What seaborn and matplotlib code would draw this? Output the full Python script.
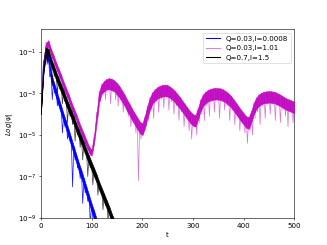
import numpy as np
import pandas as pd
import matplotlib
matplotlib.use("Agg")
import matplotlib.pyplot as plt
from matplotlib.ticker import FixedLocator, NullLocator, LogFormatterMathtext
import seaborn as sns

# ---- data (log10 |psi|) ----
# Q=0.03, l=1.01 (magenta): crest points every 5, band bottom at same t,
# spike troughs in between
mag_t_up = list(range(0, 505, 5))
mag_up = [-3.9, -1.4, -0.55, -0.45, -0.85, -1.15, -1.5, -1.8, -2.1, -2.45,
          -2.75, -3.05, -3.4, -3.7, -4.0, -4.35, -4.65, -4.95, -5.25, -5.55,
          -5.7, -5.0, -3.9, -2.9, -2.55, -2.4, -2.3, -2.27, -2.3, -2.38,
          -2.5, -2.65, -2.85, -3.05, -3.3, -3.5, -3.75, -3.95, -4.15, -4.35,
          -4.45, -4.1, -3.6, -3.2, -2.95, -2.8, -2.7, -2.63, -2.59, -2.58,
          -2.6, -2.68, -2.78, -2.9, -3.05, -3.2, -3.38, -3.55, -3.72, -3.88,
          -4.0, -4.05, -3.7, -3.3, -3.05, -2.92, -2.83, -2.78, -2.75, -2.74,
          -2.75, -2.76, -2.82, -2.9, -3.0, -3.12, -3.28, -3.45, -3.62, -3.8,
          -3.95, -4.1, -4.15, -3.85, -3.45, -3.2, -3.05, -2.97, -2.92, -2.9,
          -2.89, -2.9, -2.92, -2.97, -3.03, -3.1, -3.18, -3.25, -3.3, -3.35,
          -3.4]
mag_band = [-3.9, -1.8, -0.85, -0.75, -1.15, -1.45, -1.8, -2.1, -2.4, -2.75,
            -3.05, -3.35, -3.7, -4.0, -4.3, -4.65, -4.95, -5.25, -5.55, -5.85,
            -6.0, -5.4, -4.4, -3.4, -3.0, -2.9, -2.8, -2.8, -2.85, -2.9,
            -3.05, -3.2, -3.4, -3.6, -3.85, -4.05, -4.3, -4.5, -4.7, -4.9,
            -5.0, -4.7, -4.2, -3.8, -3.5, -3.35, -3.25, -3.18, -3.15, -3.13,
            -3.15, -3.22, -3.32, -3.45, -3.6, -3.75, -3.92, -4.1, -4.27, -4.43,
            -4.55, -4.6, -4.25, -3.85, -3.6, -3.47, -3.38, -3.33, -3.3, -3.29,
            -3.3, -3.31, -3.37, -3.45, -3.55, -3.67, -3.83, -4.0, -4.17, -4.35,
            -4.5, -4.65, -4.7, -4.4, -4.0, -3.75, -3.6, -3.52, -3.47, -3.45,
            -3.44, -3.45, -3.47, -3.52, -3.58, -3.65, -3.73, -3.8, -3.85, -3.9,
            -3.95]
mag_t_lo = [2.5 + 5 * k for k in range(100)]
mag_lo = [-3.0, -1.6, -0.8, -1.0, -1.35, -1.65, -1.95, -2.3, -2.6, -2.95,
          -3.25, -3.55, -3.9, -4.2, -4.5, -4.85, -5.15, -5.45, -5.75, -6.0,
          -5.9, -5.0, -4.2, -3.4, -3.1, -3.3, -2.9, -3.5, -2.9, -3.3,
          -3.6, -3.3, -3.9, -3.6, -4.1, -4.6, -4.3, -4.9, -7.2, -5.2,
          -5.0, -4.6, -4.3, -3.8, -4.2, -3.4, -3.9, -3.3, -3.7, -3.2,
          -3.8, -3.4, -4.0, -3.6, -4.3, -3.9, -4.6, -4.2, -4.8, -5.2,
          -4.6, -5.0, -4.4, -4.0, -4.3, -3.6, -4.1, -3.4, -3.9, -3.3,
          -4.2, -3.4, -3.8, -3.6, -4.3, -3.8, -4.5, -4.1, -4.8, -4.4,
          -4.9, -5.4, -4.8, -5.0, -4.2, -3.9, -4.5, -3.6, -4.2, -3.5,
          -4.0, -3.5, -4.3, -3.6, -4.4, -3.8, -4.1, -4.6, -3.9, -4.4]

# Q=0.03, l=0.0008 (blue)
blue_t_up = list(range(0, 120, 5))
blue_up = [-3.8, -1.6, -0.9, -1.2, -2.0, -2.4, -2.8, -3.2, -3.6, -4.0,
           -4.35, -4.75, -5.15, -5.55, -5.95, -6.35, -6.7, -7.1, -7.5, -7.9,
           -8.3, -8.65, -9.05, -9.4]
blue_band = [-3.8, -1.9, -1.2, -1.5, -2.4, -2.8, -3.2, -3.6, -4.0, -4.4,
             -4.75, -5.15, -5.55, -5.95, -6.35, -6.75, -7.1, -7.5, -7.9, -8.3,
             -8.7, -9.05, -9.45, -9.8]
blue_t_lo = [2.5 + 5 * k for k in range(23)]
blue_lo = [-2.8, -1.3, -1.5, -2.2, -3.3, -3.0, -3.6, -3.7, -4.9, -4.6,
           -5.2, -5.3, -7.5, -6.2, -6.6, -7.1, -8.3, -7.8, -8.2, -9.3,
           -9.0, -9.6, -9.8]

# Q=0.7, l=1.5 (black)
blk_t_up = list(range(0, 155, 5))
blk_up = [-4.0, -1.8, -0.8, -0.85, -1.3, -1.6, -1.95, -2.25, -2.55, -2.85,
          -3.2, -3.5, -3.8, -4.1, -4.45, -4.75, -5.05, -5.35, -5.7, -6.0,
          -6.3, -6.6, -6.9, -7.25, -7.55, -7.85, -8.15, -8.45, -8.8, -9.1,
          -9.4]
blk_band = [-4.0, -2.1, -1.1, -1.2, -1.7, -2.0, -2.35, -2.65, -2.95, -3.25,
            -3.6, -3.9, -4.2, -4.5, -4.85, -5.15, -5.45, -5.75, -6.1, -6.4,
            -6.7, -7.0, -7.3, -7.65, -7.95, -8.25, -8.55, -8.85, -9.2, -9.5,
            -9.8]
blk_t_lo = [2.5 + 5 * k for k in range(30)]
blk_lo = [-3.0, -1.2, -1.6, -1.5, -2.6, -2.2, -3.0, -2.8, -3.5, -3.4,
          -4.4, -4.1, -4.5, -5.3, -5.0, -5.6, -6.2, -5.9, -7.0, -6.6,
          -7.4, -7.1, -7.9, -7.7, -8.6, -8.4, -9.2, -9.1, -9.6, -9.7]

labels = ["Q=0.03,l=0.0008", "Q=0.03,l=1.01", "Q=0.7,l=1.5"]
colors = ["#0000ff", "#bf00bf", "#000000"]
line_alpha = [0.9, 0.55, 0.75]
band_alpha = [1.0, 0.9, 1.0]
ytick_exp = [-9, -7, -5, -3, -1]


def series(t_up, up, t_lo, lo):
    df = pd.DataFrame({"t": list(t_up) + list(t_lo),
                       "logpsi": list(up) + list(lo)})
    df = df.sort_values("t").reset_index(drop=True)
    df["psi"] = 10.0 ** df["logpsi"]
    return df


lines = [series(blue_t_up, blue_up, blue_t_lo, blue_lo),
         series(mag_t_up, mag_up, mag_t_lo, mag_lo),
         series(blk_t_up, blk_up, blk_t_lo, blk_lo)]
bands = [(blue_t_up, blue_up, blue_band),
         (mag_t_up, mag_up, mag_band),
         (blk_t_up, blk_up, blk_band)]

fig, ax = plt.subplots(figsize=(6.4, 4.8), dpi=51.1)
ax.set_yscale("log")
for i, (df, (tb, ub, lb), lab, col) in enumerate(zip(lines, bands, labels, colors)):
    ax.fill_between(tb, 10.0 ** np.array(ub), 10.0 ** np.array(lb),
                    color=col, alpha=band_alpha[i], linewidth=0.8,
                    edgecolor=col, zorder=2 + 2 * i)
    sns.lineplot(data=df, x="t", y="psi", ax=ax, color=col,
                 alpha=line_alpha[i], estimator=None, sort=False,
                 linewidth=1.0, zorder=3 + 2 * i)

handles = [plt.Line2D([], [], color=c, alpha=a, linewidth=1.5)
           for c, a in zip(colors, [1.0, 0.5, 1.0])]
ax.legend(handles, labels, loc="upper right")

ax.set_xlim(0, 500)
ax.set_ylim(1e-9, 1.25)
ax.yaxis.set_major_locator(FixedLocator([10.0 ** e for e in ytick_exp]))
ax.yaxis.set_major_formatter(LogFormatterMathtext())
ax.yaxis.set_minor_locator(NullLocator())
ax.set_xlabel("t")
ax.set_ylabel(r"$Log|\psi|$")
fig.savefig("out.png", dpi=51.1)
